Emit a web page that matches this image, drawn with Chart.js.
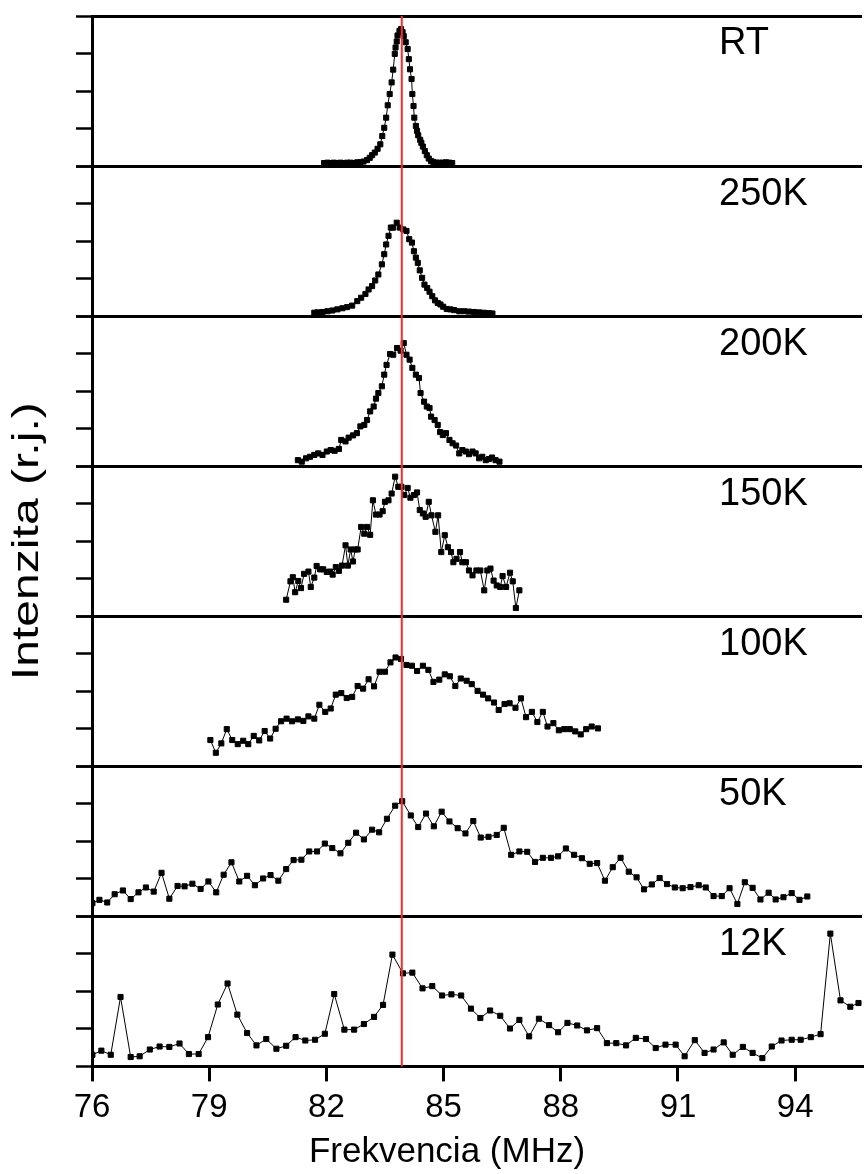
<!DOCTYPE html>
<html>
<head>
<meta charset="utf-8">
<title>Intenzita - Frekvencia</title>
<script src="https://cdn.jsdelivr.net/npm/chart.js@4.4.1/dist/chart.umd.min.js"></script>
<style>
  html, body { margin: 0; padding: 0; background: #fff; }
  canvas { display: block; }
</style>
</head>
<body>
<canvas id="spectraCanvas" width="867" height="1174"></canvas>
<script>
// panel names, top to bottom
var panelLabels = ['RT', '250K', '200K', '150K', '100K', '50K', '12K'];

// frequency in MHz, intensity in r.j. (each panel runs 0..4)
var freqRT = [81.94,82.03,82.11,82.19,82.28,82.36,82.45,82.53,82.62,82.70,82.79,82.87,82.95,83.04,83.11,83.17,83.24,83.31,83.38,83.43,83.48,83.53,83.57,83.62,83.67,83.71,83.75,83.77,83.80,83.82,83.87,83.91,83.95,83.98,84.03,84.08,84.11,84.14,84.18,84.20,84.23,84.25,84.29,84.32,84.35,84.40,84.43,84.47,84.52,84.57,84.62,84.68,84.74,84.81,84.89,84.98,85.06,85.15,85.22];
var intRT = [0.08,0.09,0.08,0.09,0.08,0.09,0.08,0.09,0.09,0.08,0.10,0.10,0.12,0.16,0.22,0.29,0.36,0.46,0.58,0.80,1.02,1.29,1.62,1.92,2.23,2.57,2.99,3.16,3.32,3.48,3.60,3.65,3.57,3.46,3.30,3.12,2.85,2.58,2.32,1.92,1.60,1.29,1.07,0.94,0.82,0.70,0.62,0.52,0.40,0.29,0.20,0.13,0.11,0.09,0.09,0.09,0.10,0.09,0.08];

var freq250 = [81.69,81.77,81.90,82.03,82.15,82.28,82.41,82.53,82.66,82.79,82.89,83.00,83.08,83.17,83.25,83.33,83.42,83.48,83.53,83.59,83.65,83.71,83.80,83.88,83.97,84.05,84.12,84.19,84.24,84.29,84.34,84.39,84.45,84.51,84.58,84.64,84.71,84.78,84.85,84.92,84.99,85.08,85.17,85.27,85.40,85.53,85.65,85.78,85.91,86.03,86.16,86.25];
var int250 = [0.09,0.10,0.11,0.13,0.15,0.18,0.21,0.24,0.28,0.40,0.49,0.59,0.71,0.80,0.95,1.11,1.38,1.65,1.91,2.14,2.36,2.36,2.49,2.36,2.31,2.27,2.05,1.96,1.73,1.56,1.42,1.22,1.02,0.84,0.75,0.65,0.53,0.42,0.35,0.31,0.25,0.19,0.18,0.16,0.13,0.13,0.12,0.11,0.10,0.09,0.08,0.07];

var freq200 = [81.27,81.37,81.48,81.58,81.69,81.79,81.90,82.01,82.11,82.21,82.32,82.38,82.49,82.57,82.68,82.78,82.87,82.97,83.04,83.12,83.21,83.27,83.33,83.42,83.48,83.54,83.63,83.71,83.81,83.90,83.98,84.05,84.13,84.20,84.29,84.37,84.41,84.50,84.57,84.64,84.68,84.77,84.85,84.91,84.98,85.06,85.15,85.23,85.32,85.40,85.48,85.57,85.65,85.74,85.82,85.91,85.99,86.08,86.16,86.24,86.33,86.43];
var int200 = [0.16,0.12,0.21,0.25,0.30,0.34,0.30,0.39,0.43,0.41,0.46,0.70,0.66,0.76,0.82,0.88,1.06,1.10,1.23,1.46,1.59,1.80,1.95,2.13,2.44,2.70,2.99,2.97,3.15,3.08,3.28,2.97,2.84,2.62,2.44,2.35,1.95,1.72,1.59,1.55,1.32,1.23,1.10,0.91,0.83,0.88,0.70,0.61,0.55,0.34,0.43,0.39,0.32,0.39,0.34,0.21,0.25,0.16,0.19,0.23,0.16,0.12];

var freq150 = [80.97,81.08,81.14,81.20,81.28,81.35,81.43,81.54,81.60,81.69,81.75,81.84,81.92,82.01,82.09,82.16,82.24,82.32,82.40,82.49,82.55,82.62,82.68,82.74,82.80,82.89,82.97,83.04,83.12,83.19,83.27,83.36,83.44,83.50,83.59,83.67,83.76,83.84,83.92,83.99,84.08,84.15,84.24,84.32,84.39,84.47,84.54,84.62,84.69,84.79,84.86,84.94,85.03,85.11,85.19,85.25,85.33,85.42,85.48,85.57,85.65,85.74,85.84,85.94,86.04,86.12,86.20,86.28,86.36,86.45,86.51,86.60,86.70,86.77,86.85,86.94];
var int150 = [0.44,0.93,1.04,0.64,0.94,0.75,1.13,1.19,0.78,1.03,1.34,1.25,1.25,1.18,1.19,1.11,1.31,1.21,1.35,1.89,1.35,1.78,1.46,1.78,1.78,2.38,2.20,2.38,2.17,3.09,2.71,2.71,2.80,3.05,3.09,3.27,3.72,3.45,3.45,3.23,3.42,3.16,3.23,3.30,2.83,2.74,2.65,3.05,2.69,2.25,2.69,1.71,2.16,1.84,1.71,1.44,1.53,1.71,1.44,1.44,1.22,1.09,1.22,1.22,0.69,1.22,1.27,0.95,0.82,0.78,1.07,0.78,1.16,0.93,0.22,0.69];

var freq100 = [79.03,79.17,79.31,79.45,79.59,79.73,79.87,80.00,80.14,80.28,80.42,80.56,80.70,80.84,80.98,81.12,81.27,81.41,81.54,81.69,81.82,81.97,82.11,82.24,82.38,82.52,82.66,82.80,82.94,83.08,83.22,83.36,83.50,83.64,83.77,83.91,84.05,84.19,84.32,84.47,84.61,84.74,84.89,85.03,85.16,85.30,85.44,85.59,85.72,85.87,86.01,86.14,86.29,86.41,86.56,86.69,86.84,86.98,87.11,87.26,87.40,87.54,87.66,87.81,87.95,88.09,88.23,88.37,88.51,88.65,88.79,88.95];
var int100 = [0.70,0.36,0.61,0.99,0.70,0.59,0.68,0.59,0.81,0.69,0.94,0.74,1.00,1.20,1.27,1.20,1.25,1.21,1.33,1.27,1.64,1.45,1.54,1.91,1.95,1.82,1.85,2.14,2.07,2.32,2.13,2.52,2.52,2.77,2.90,2.86,2.70,2.68,2.54,2.68,2.57,2.25,2.31,2.45,2.40,2.14,2.34,2.28,2.19,2.01,1.91,1.81,1.70,1.50,1.66,1.68,1.56,1.81,1.31,1.45,1.18,1.45,1.06,1.15,0.96,0.99,0.99,0.93,0.85,0.99,1.06,1.01];

var freq50 = [76.01,76.19,76.39,76.58,76.79,76.99,77.19,77.38,77.58,77.78,77.98,78.19,78.37,78.57,78.78,78.98,79.18,79.37,79.57,79.77,79.97,80.17,80.38,80.57,80.77,80.97,81.16,81.36,81.56,81.76,81.96,82.15,82.36,82.56,82.76,82.96,83.17,83.35,83.55,83.76,83.94,84.16,84.35,84.55,84.75,84.95,85.15,85.36,85.56,85.76,85.95,86.15,86.36,86.54,86.73,86.94,87.14,87.34,87.54,87.75,87.93,88.13,88.34,88.54,88.74,88.93,89.13,89.33,89.53,89.74,89.94,90.13,90.33,90.53,90.72,90.92,91.12,91.32,91.53,91.71,91.91,92.12,92.32,92.52,92.71,92.91,93.11,93.32,93.50,93.70,93.91,94.11,94.31];
var int50 = [0.35,0.44,0.37,0.59,0.69,0.46,0.64,0.77,0.66,1.16,0.47,0.81,0.80,0.87,0.73,0.93,0.64,1.11,1.44,0.93,1.08,0.83,1.01,1.10,0.95,1.26,1.50,1.51,1.73,1.73,1.94,1.82,1.68,1.96,2.23,2.05,2.31,2.24,2.60,2.95,3.07,2.69,2.38,2.74,2.40,2.79,2.53,2.35,2.21,2.54,2.10,2.12,2.17,2.36,1.64,1.73,1.72,1.45,1.56,1.56,1.60,1.81,1.64,1.55,1.40,1.42,0.95,1.31,1.56,1.19,1.04,0.72,0.85,1.02,0.86,0.77,0.75,0.78,0.83,0.77,0.54,0.54,0.75,0.33,0.91,0.76,0.45,0.63,0.45,0.51,0.62,0.44,0.53];

var freq12 = [76.01,76.24,76.48,76.73,76.99,77.22,77.48,77.73,77.98,78.24,78.48,78.73,78.97,79.22,79.47,79.72,79.97,80.21,80.46,80.72,80.97,81.21,81.46,81.71,81.96,82.20,82.46,82.71,82.96,83.22,83.45,83.69,83.96,84.20,84.46,84.71,84.96,85.20,85.45,85.70,85.94,86.19,86.45,86.70,86.94,87.19,87.44,87.70,87.93,88.17,88.42,88.67,88.93,89.18,89.42,89.67,89.92,90.18,90.43,90.68,90.94,91.17,91.43,91.68,91.91,92.17,92.40,92.66,92.91,93.16,93.40,93.65,93.91,94.14,94.40,94.65,94.90,95.16,95.41,95.62];
var int12 = [0.31,0.42,0.31,1.85,0.25,0.27,0.45,0.53,0.52,0.61,0.33,0.33,0.78,1.65,2.21,1.38,0.89,0.56,0.73,0.47,0.55,0.78,0.69,0.71,0.87,1.93,0.98,0.98,1.13,1.32,1.64,2.98,2.48,2.50,2.08,2.14,1.89,1.92,1.89,1.54,1.29,1.49,1.35,1.01,1.24,0.80,1.27,1.10,0.91,1.16,1.09,0.96,1.02,0.62,0.62,0.56,0.76,0.73,0.49,0.58,0.58,0.27,0.70,0.36,0.45,0.64,0.31,0.52,0.36,0.22,0.53,0.69,0.71,0.71,0.78,0.86,3.54,1.76,1.59,1.69];

var freqTicks = [76, 79, 82, 85, 88, 91, 94];
var freqMin = 76;
var freqMax = 95.71;
var refFreq = 83.93; // red marker line

var panelFreqs = [freqRT, freq250, freq200, freq150, freq100, freq50, freq12];
var panelInts = [intRT, int250, int200, int150, int100, int50, int12];

var xTitle = 'Frekvencia (MHz)';
var yTitle = 'Intenzita (r.j.)';

var fontName = '"Liberation Sans", Arial, sans-serif';

// build one dataset + one stacked y axis per panel
var datasets = [];
var scales = {
    x: {
        type: 'linear',
        position: 'bottom',
        min: freqMin,
        max: freqMax,
        afterBuildTicks: function(scale) {
            scale.ticks = freqTicks.map(function(v) { return {value: v}; });
        },
        ticks: {
            color: '#000',
            padding: 7,
            maxRotation: 0,
            font: {family: fontName, size: 33}
        },
        grid: {
            drawOnChartArea: false,
            color: '#000',
            lineWidth: 3,
            tickLength: 15
        },
        border: {color: '#000', width: 3}
    }
};

for (var i = 0; i < panelLabels.length; i++) {
    var axisId = 'y' + i;
    var points = [];
    for (var j = 0; j < panelFreqs[i].length; j++) {
        points.push({x: panelFreqs[i][j], y: panelInts[i][j]});
    }
    datasets.push({
        label: panelLabels[i],
        data: points,
        yAxisID: axisId,
        borderColor: '#000',
        borderWidth: 1,
        backgroundColor: '#000',
        pointStyle: 'rect',
        pointRadius: 3.6,
        pointBorderWidth: 1,
        pointBackgroundColor: '#000',
        pointBorderColor: '#000',
        tension: 0
    });
    scales[axisId] = {
        type: 'linear',
        position: 'left',
        stack: 'panels',
        stackWeight: 1,
        weight: panelLabels.length - i,
        min: 0,
        max: 4,
        ticks: {display: false, stepSize: 1},
        grid: {
            color: function(context) {
                var v = context.tick ? context.tick.value : -1;
                return (v === 0 || v === 4) ? '#000' : 'rgba(0,0,0,0)';
            },
            lineWidth: 3,
            tickColor: '#000',
            tickWidth: 2.5,
            tickLength: 16
        },
        border: {color: '#000', width: 3}
    };
}

// red line, panel names and both axis titles
var overlayPlugin = {
    id: 'overlay',
    afterDatasetsDraw: function(chart) {
        var ctx = chart.ctx;
        var area = chart.chartArea;
        var xPix = chart.scales.x.getPixelForValue(refFreq);
        ctx.save();
        ctx.strokeStyle = '#ff2b2b';
        ctx.lineWidth = 2;
        ctx.beginPath();
        ctx.moveTo(xPix, area.top);
        ctx.lineTo(xPix, area.bottom);
        ctx.stroke();
        ctx.restore();
    },
    afterDraw: function(chart) {
        var ctx = chart.ctx;
        var area = chart.chartArea;
        ctx.save();
        ctx.fillStyle = '#000';
        ctx.font = '38px ' + fontName;
        ctx.textAlign = 'left';
        ctx.textBaseline = 'middle';
        for (var i = 0; i < panelLabels.length; i++) {
            var sc = chart.scales['y' + i];
            ctx.fillText(panelLabels[i], area.right - 143, sc.top + 28);
        }

        // x title
        ctx.textAlign = 'center';
        ctx.font = '35px ' + fontName;
        ctx.fillText(xTitle, area.left + 355, chart.height - 22);

        // y title, a bit stretched along its length like the original
        ctx.translate(28, (area.top + area.bottom) / 2);
        ctx.rotate(-Math.PI / 2);
        ctx.scale(1.3, 1);
        ctx.font = '37px ' + fontName;
        ctx.fillText(yTitle, 0, 0);
        ctx.restore();
    }
};

var spectraChart = new Chart(document.getElementById('spectraCanvas'), {
    type: 'line',
    data: {datasets: datasets},
    options: {
        responsive: false,
        devicePixelRatio: 1,
        animation: false,
        layout: {padding: {left: 76, top: 16, right: 0, bottom: 39}},
        plugins: {
            legend: {display: false},
            tooltip: {enabled: false}
        },
        scales: scales
    },
    plugins: [overlayPlugin]
});
</script>
</body>
</html>
